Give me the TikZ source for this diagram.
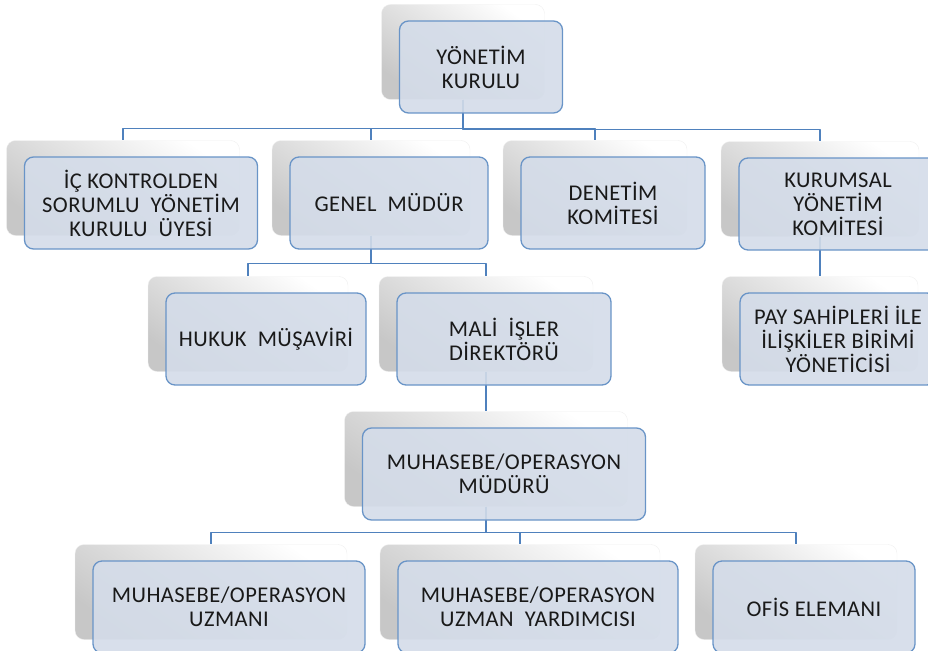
\documentclass[tikz,border=0pt]{standalone}
\usepackage{fontspec}
\setmainfont{Carlito}[LetterSpace=2]
\usepackage{xcolor}
\definecolor{orgblue}{RGB}{79,129,189}
\definecolor{orgfill}{RGB}{212,220,233}
\definecolor{orgtext}{RGB}{25,25,25}
\usetikzlibrary{positioning}

% name / centre x / centre y / width / text
\def\orgitems{
    yk/463/52/163/{YÖNETİM\\KURULU},
    ick/123/188/233/{İÇ KONTROLDEN\\SORUMLU~~YÖNETİM\\KURULU~~ÜYESİ},
    gm/371/188/198/{GENEL~~MÜDÜR},
    dk/595/188/184/{DENETİM\\KOMİTESİ},
    kyk/820/189/198/{KURUMSAL\\YÖNETİM\\KOMİTESİ},
    hm/248/324/200/{HUKUK~~MÜŞAVİRİ},
    mid/486/324/214/{MALİ~~İŞLER\\DİREKTÖRÜ},
    pay/820/324/196/{PAY SAHİPLERİ İLE\\İLİŞKİLER BİRİMİ\\YÖNETİCİSİ},
    mom/486/459/283/{MUHASEBE/OPERASYON\\MÜDÜRÜ},
    uz/211/592/272/{MUHASEBE/OPERASYON\\UZMANI},
    uy/520/592/280/{MUHASEBE/OPERASYON\\UZMAN~~YARDIMCISI},
    oe/796/592/202/{OFİS ELEMANI}}

\begin{document}
\begin{tikzpicture}[
        x=1pt, y=-1pt,
        line join=bevel,
        backbox/.style={shape=rectangle, rounded corners=9pt, top color=white, bottom color=black!22, shading angle=-35, draw=black!6, inner sep=0pt, minimum height=95pt},
        frontbox/.style={shape=rectangle, rounded corners=9pt, fill=orgfill, fill opacity=0.9, text opacity=1, draw=orgblue!85, line width=1.3pt, text=orgtext, align=center, inner sep=2pt, minimum height=92pt, font=\fontsize{22.5}{24}\selectfont},
        orgline/.style={draw=orgblue, line width=1.3pt}
    ]
    \useasboundingbox (0,0) rectangle (928,650);

    % Back boxes
    \foreach \n/\cx/\cy/\w/\t in \orgitems {
        \node[backbox, minimum width=\w pt] (\n) at (\cx, \cy) {};
    }

    % Connectors
    \foreach \c in {ick,gm,dk,kyk}
        \draw[orgline] (yk.south) |- ([yshift=12pt]\c.north) -- (\c.north);
    \foreach \c in {hm,mid}
        \draw[orgline] (gm.south) |- ([yshift=13pt]\c.north) -- (\c.north);
    \draw[orgline] (kyk.south) -- (pay.north);
    \draw[orgline] (mid.south) -- (mom.north);
    \foreach \c in {uz,uy,oe}
        \draw[orgline] (mom.south) |- ([yshift=12pt]\c.north) -- (\c.north);

    % Front boxes with the texts
    \foreach \n/\cx/\cy/\w/\t in \orgitems {
        \node[frontbox, minimum width=\w pt] (\n-f) at ([shift={(18,15)}]\n.center) {\t};
    }
\end{tikzpicture}
\end{document}
